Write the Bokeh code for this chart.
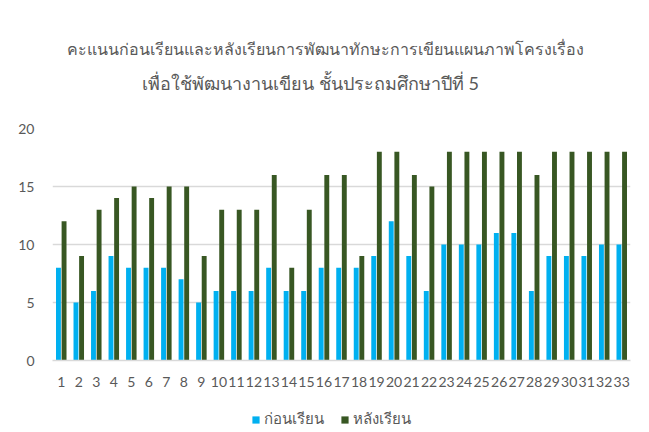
from bokeh.plotting import figure
from bokeh.layouts import column
from bokeh.models import ColumnDataSource, FixedTicker, Label, Legend, LegendItem
from bokeh.embed import file_html
from bokeh.resources import INLINE
from bokeh.transform import dodge

students = list(range(1, 34))
before = [8, 5, 6, 9, 8, 8, 8, 7, 5, 6, 6, 6, 8, 6, 6, 8, 8, 8, 9, 12, 9, 6, 10, 10, 10, 11, 11, 6, 9, 9, 9, 10, 10]
after = [12, 9, 13, 14, 15, 14, 15, 15, 9, 13, 13, 13, 16, 8, 13, 16, 16, 9, 18, 18, 16, 15, 18, 18, 18, 18, 18, 16, 18, 18, 18, 18, 18]
series_names = ["ก่อนเรียน", "หลังเรียน"]
title_lines = ["คะแนนก่อนเรียนและหลังเรียนการพัฒนาทักษะการเขียนแผนภาพโครงเรื่อง",
               "เพื่อใช้พัฒนางานเขียน ชั้นประถมศึกษาปีที่ 5"]
y_ticks = [0, 5, 10, 15, 20]

BLUE = "#00B0F0"
GREEN = "#385723"
GRAY = "#595959"
GRID = "#D9D9D9"
FONT = "Lato"
W = 641


def strip(height, x_range, y_range):
    fig = figure(width=W, height=height, x_range=x_range, y_range=y_range,
                 x_axis_location=None, y_axis_location=None,
                 output_backend="svg", toolbar_location=None,
                 min_border_left=0, min_border_right=0, min_border_top=0, min_border_bottom=0)
    fig.grid.visible = False
    fig.outline_line_color = None
    fig.background_fill_color = "white"
    fig.border_fill_color = "white"
    return fig


src = ColumnDataSource(dict(x=students, before=before, after=after))

# --- title strip (its frame is aligned with the chart frame: 52..630 px) ---
tf = strip(118, (52, 630), (0, 118))
tf.add_layout(Label(x=325, y=70, text=title_lines[0], text_align="center", text_baseline="middle",
                    text_font=FONT, text_font_size="16px", text_color=GRAY))
tf.add_layout(Label(x=310, y=36, text=title_lines[1], text_align="center", text_baseline="middle",
                    text_font=FONT, text_font_size="18px", text_color=GRAY))

# --- main chart ---
p = figure(frame_width=578, frame_height=232, x_range=(0.5, 33.5), y_range=(0, 20),
           output_backend="svg", toolbar_location=None,
           min_border_left=52, min_border_right=11, min_border_top=10, min_border_bottom=36)
p.outline_line_color = None
p.background_fill_color = "white"
p.border_fill_color = "white"

p.vbar(x=dodge("x", -0.16), top="before", width=0.28, source=src,
       fill_color=BLUE, line_color=None)
p.vbar(x=dodge("x", 0.16), top="after", width=0.28, source=src,
       fill_color=GREEN, line_color=None)

p.xaxis.ticker = FixedTicker(ticks=students)
p.yaxis.ticker = FixedTicker(ticks=y_ticks)
p.xgrid.grid_line_color = None
p.ygrid.ticker = FixedTicker(ticks=y_ticks)
p.ygrid.grid_line_color = GRID
p.ygrid.grid_line_width = 1.5

for ax in (p.xaxis[0], p.yaxis[0]):
    ax.major_tick_line_color = None
    ax.minor_tick_line_color = None
    ax.major_label_text_font = FONT
    ax.major_label_text_font_size = "14px"
    ax.major_label_text_color = GRAY
p.yaxis.axis_line_color = None
p.xaxis.axis_line_color = GRID
p.xaxis.axis_line_width = 1.5
p.xaxis.major_label_standoff = 10
p.yaxis.major_label_standoff = 12

# --- legend strip (legend keys reuse the series, drawn outside its view) ---
lf = strip(36, (100, 101), (100, 101))
k1 = lf.vbar(x="x", top="before", width=0.28, source=src, fill_color=BLUE, line_color=None)
k2 = lf.vbar(x="x", top="after", width=0.28, source=src, fill_color=GREEN, line_color=None)
legend = Legend(items=[LegendItem(label=series_names[0], renderers=[k1]),
                       LegendItem(label=series_names[1], renderers=[k2])],
                orientation="horizontal", location=(199, 1),
                label_text_font=FONT, label_text_font_size="15px", label_text_color=GRAY,
                glyph_width=9, glyph_height=9, spacing=16, label_standoff=4,
                border_line_color=None, background_fill_alpha=0, padding=2, margin=0)
lf.add_layout(legend)

layout = column(tf, p, lf, spacing=0)
open("out.html", "w").write(file_html(layout, INLINE))
